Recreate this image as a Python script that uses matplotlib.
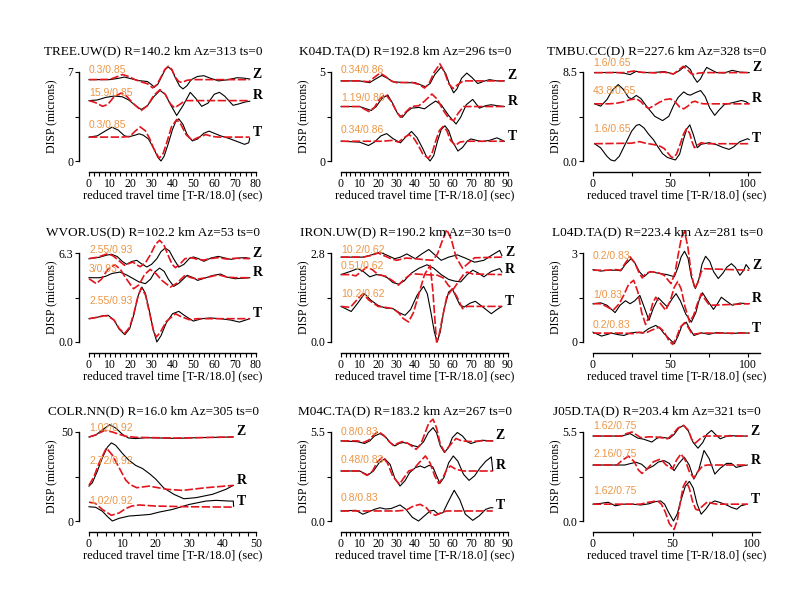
import numpy as np
import matplotlib
matplotlib.use("Agg")
import matplotlib.pyplot as plt
from matplotlib.ticker import MultipleLocator, FixedLocator

plt.rcParams["font.family"] = ["Liberation Serif", "DejaVu Serif"]

# === waveform data: (time [s], displacement relative to trace offset) ===
# obs = data (black), syn = synthetic (red)

# --- TREE.UW ---
tree_z_obs = [(0, 0), (10, 0), (14, 0.1), (17, 0.2), (20, 0.08), (24, -0.08), (28, -0.15), (30, -0.4), (31.3, -0.6),
              (33, -0.35), (34.7, 0.2), (36.5, 0.8), (38, 1.0), (39.7, 0.75), (41.5, 0.1), (43.4, -0.5), (45, -0.73),
              (46.8, -0.5), (49, 0), (52, 0.25), (55, 0.31), (58, 0.12), (62, -0.1), (66, -0.02), (71, 0.15),
              (74, 0.12), (77, 0.05)]
tree_z_syn = [(0, 0), (10, 0.02), (13, 0.2), (16, 0.4), (19, 0.25), (22, 0), (25, -0.18), (28, -0.32), (30.5, -0.65),
              (32.5, -0.4), (34.5, 0.2), (36.3, 0.8), (38, 1.05), (39.7, 0.8), (41.3, 0.2), (43, -0.15), (44.5, -0.22),
              (47, -0.05), (50, 0), (77, 0)]
tree_r_obs = [(0, 0), (4, 0.05), (8, 0.25), (12, 0.36), (16, 0.3), (19, 0.05), (22, -0.35), (25, -0.7), (28, -0.4),
              (31, 0.3), (34, 0.8), (36.5, 0.5), (39, -0.3), (42, -1.17), (45, -0.4), (48.5, 0.65), (51, 0.2),
              (54, -0.45), (57, -0.2), (60, 0.5), (62.5, 0.65), (65, 0.35), (69, -0.37), (72, -0.25), (75, -0.1),
              (77, -0.05)]
tree_r_syn = [(0, 0), (3, -0.15), (6.5, -0.45), (9, -0.3), (12, 0.3), (15.5, 0.6), (18, 0.35), (21, -0.2),
              (25, -0.78), (28, -0.4), (31, 0.4), (34, 0.86), (36.5, 0.5), (39, -0.25), (41, -0.57), (43.5, -0.3),
              (46, 0), (77, 0)]
tree_t_obs = [(0, 0), (4, 0.1), (8, 0.5), (11, 0.78), (14, 0.55), (17, 0.1), (19, 0.02), (22, 0.15), (24, 0.26),
              (26, 0.15), (28.5, -0.15), (31, -0.9), (33, -1.6), (34.5, -1.88), (36, -1.5), (38, -0.5), (40, 0.6),
              (41.5, 1.2), (43, 1.44), (45, 1.0), (47, 0.2), (49.5, -0.3), (52, -0.15), (55, 0.3), (57.5, 0.47),
              (60, 0.3), (63, 0.1), (67, -0.1), (71, -0.35), (74.5, -0.57), (76.5, -0.45), (77, -0.1)]
tree_t_syn = [(0, 0), (16, 0), (19.6, 0.05), (22, 0.45), (24.5, 0.8), (27, 0.5), (29, -0.1), (31, -0.9),
              (33.6, -1.67), (35.5, -1.3), (37.5, -0.3), (39.5, 0.8), (42, 1.38), (44, 1.0), (46.5, 0.2),
              (49.4, -0.26), (52, -0.05), (56, 0.2), (59, 0.05), (62, 0), (77, 0)]

# --- K04D.TA ---
k04d_z_obs = [(0, 0), (10, 0), (15.4, -0.1), (18.5, 0.1), (22, 0.31), (25, 0.15), (28, -0.05), (35, -0.1), (40, -0.1),
              (45.5, -0.33), (48, -0.15), (50.5, 0.35), (54, 0.78), (56.5, 0.4), (58.5, -0.2), (60.7, -0.67),
              (62.5, -0.45), (65, 0.15), (67.8, 0.44), (70.5, 0.2), (73.7, -0.15), (77, -0.02), (80, 0.07),
              (84, 0), (88, 0)]
k04d_z_syn = [(0, 0), (10, 0), (15, -0.05), (18, 0.2), (21, 0.44), (24, 0.25), (27, 0), (30, -0.1), (38, -0.08),
              (42, -0.2), (45, -0.4), (47.5, -0.15), (50, 0.45), (53.3, 0.96), (55.8, 0.5), (58, -0.15),
              (60.4, -0.43), (63, -0.2), (66, 0), (88, 0)]
k04d_r_obs = [(0, 0), (10, 0), (16.3, -0.22), (19, 0.0), (22, 0.45), (25.2, 0.65), (28, 0.15), (30.5, -0.4),
              (33, -0.61), (35.5, -0.3), (38, -0.09), (42, -0.05), (45, -0.13), (48, 0.1), (51, 0.31), (54, 0.1),
              (58, -0.5), (62, -0.98), (64.5, -0.6), (67.5, 0.1), (71, 0.4), (74.6, -0.09), (78, 0.05), (81, 0.1),
              (84, 0.05), (88, 0)]
k04d_r_syn = [(0, 0), (10, 0), (15, -0.28), (18, -0.05), (21, 0.45), (24, 0.68), (27, 0.3), (29.5, -0.2), (32, -0.6),
              (34.5, -0.35), (38, 0), (42, 0.05), (45, 0.3), (49, 0.7), (52, 0.4), (55, -0.2), (58, -0.65),
              (60.7, -0.8), (63, -0.4), (66, 0), (88, 0)]
k04d_t_obs = [(0, 0), (10, -0.05), (14.8, -0.24), (18, -0.05), (21.5, 0.3), (24.6, 0.43), (28, 0.15), (32, -0.09),
              (35, 0.25), (38, 0.55), (41, 0.2), (44, -0.4), (46, -0.85), (48, -1.11), (50, -0.8), (52, 0.0),
              (54, 0.65), (56, 0.87), (58, 0.6), (60, 0), (63, -0.55), (65.5, -0.35), (68, 0.0), (70, 0.13),
              (73, 0.05), (76, -0.02), (80, 0.05), (84, 0.19), (86, 0.1), (88, 0)]
k04d_t_syn = [(0, 0), (22, 0), (28, 0.05), (31, -0.05), (34, 0.2), (36.7, 0.37), (39, 0.2), (41.5, -0.2), (44, -0.7),
              (47, -0.96), (49, -0.7), (51, 0.0), (53, 0.6), (55, 0.83), (57, 0.6), (59, 0.05), (61.7, -0.24),
              (64, -0.05), (67, 0), (88, 0)]

# --- TMBU.CC ---
tmbu_z_obs = [(1, 0), (15, 0.02), (20, -0.05), (24, -0.19), (28, 0.13), (32, 0), (40, 0.02), (46, 0.1), (52, -0.13),
              (56, 0.2), (60, 0.67), (63, 0.3), (65, -0.4), (67.4, -0.92), (69.5, -0.6), (71.5, 0.0), (73.5, 0.5),
              (76, 0.3), (80, 0), (85, -0.03), (90, 0.22), (95, 0.05), (101, 0)]
tmbu_z_syn = [(1, 0), (20, 0), (24, 0.1), (27, 0.16), (30, 0.05), (40, -0.03), (46, 0.05), (52, -0.13), (55, 0.2),
              (58.3, 0.6), (61, 0.3), (63.5, -0.1), (65.6, -0.2), (68, -0.05), (72, 0), (101, 0)]
tmbu_r_obs = [(1, 0), (5, -0.22), (9, 0.4), (12.5, 1.3), (16.3, 1.84), (19.5, 1.4), (23, 0.6), (25, 0.48), (28, 0.8),
              (31, 0.5), (35, -0.3), (40, -1.2), (45, -1.6), (49, -1.2), (52, -0.2), (55, 0.6), (58.7, 1.14),
              (61, 0.9), (63, 0.83), (66, 1.05), (69.6, 1.27), (72.5, 0.7), (75.5, -0.4), (78.7, -1.1),
              (81.5, -0.6), (85, -0.06), (90, 0.1), (96, 0.32), (99, 0.2), (101, 0)]
tmbu_r_syn = [(1, 0), (10, 0), (15, 0.05), (20, 0.2), (24, 0.4), (28, 0.48), (31, 0.2), (33.5, -0.2), (36, -0.44),
              (39, -0.2), (43, 0.15), (46.5, 0.4), (50, 0.48), (53, 0.2), (56, -0.3), (58.7, -0.48), (61.5, -0.2),
              (64, 0.15), (66, 0.25), (69, 0.05), (72, 0), (101, 0)]
tmbu_t_obs = [(1, 0), (5, -0.4), (9, -1.2), (11.5, -1.55), (14, -1.65), (17, -1.2), (21, 0.0), (25, 1.2),
              (28, 1.75), (30, 1.84), (33, 1.5), (36, 0.9), (39, 0.4), (42, -0.3), (45, -0.95), (48, -1.3),
              (51, -1.45), (53.3, -1.55), (56, -1.0), (58.5, 0.4), (60.6, 1.4), (62.6, 1.8), (64.8, 0.9),
              (67.4, -0.38), (70, -0.05), (75, 0.1), (80, -0.1), (84, -0.35), (88, -0.54), (91, -0.3), (95, 0.2),
              (100, 0.48), (101, 0.4)]
tmbu_t_syn = [(1, 0), (25, 0.05), (30, 0.2), (34, 0.05), (40, -0.1), (43.5, -0.25), (46, -0.45), (48.5, -0.9),
              (50.5, -1.25), (52, -1.33), (54, -1.0), (56.5, 0.0), (58.5, 0.9), (60.4, 1.43), (62.5, 1.0), (64, 0.2),
              (65.6, -0.38), (68, -0.1), (70, 0.1), (73, 0), (101, 0)]

# --- WVOR.US ---
wvor_z_obs = [(0, 0), (5, 0.1), (8.5, 0.25), (10.8, 0.31), (13.5, 0.15), (16, -0.2), (18, -0.4), (20.5, -0.2),
              (22.9, -0.12), (25, -0.35), (27.7, -0.59), (30, -0.4), (32.5, 0.0), (34.5, 0.5), (36.5, 0.75),
              (38.5, 0.55), (40.5, 0.0), (43, -0.6), (45.5, -0.4), (48, 0.0), (50, 0.12), (52.5, 0.0), (55, -0.19),
              (58.5, 0.05), (62, 0.16), (65, 0.05), (68, -0.05), (72, 0.05), (75, 0.07), (77, 0.02)]
wvor_z_syn = [(0, 0), (4, 0.1), (7, 0.25), (9, 0.35), (11.5, 0.2), (14, -0.1), (17, -0.47), (19, -0.35), (21, -0.24),
              (23, -0.45), (24.5, -0.57), (27, -0.3), (29.5, 0.3), (31.8, 1.0), (33.8, 1.3), (35.8, 1.0), (38, 0.2),
              (39.8, -0.4), (41.4, -0.64), (43.5, -0.4), (46, 0.0), (49, 0.07), (52, -0.05), (55, -0.1), (58, 0.0),
              (62, 0.07), (66, -0.03), (70, 0.03), (77, 0)]
wvor_r_obs = [(0, 0), (5, 0), (8, 0.1), (11, 0.3), (14.8, 0.4), (18, 0.2), (21, -0.05), (24, -0.3), (27, -0.42),
              (29.5, -0.1), (31.5, 0.4), (33.8, 0.68), (36, 0.45), (38, -0.1), (40.6, -0.61), (43, -0.4), (47, 0.17),
              (50, 0.0), (52, -0.19), (55, -0.05), (59, 0.15), (63, 0.26), (66, 0.05), (70, -0.07), (74, -0.03),
              (77, 0)]
wvor_r_syn = [(0, -0.07), (3.5, -0.42), (6, -0.1), (9, 0.6), (12.4, 0.92), (15, 0.6), (17.5, 0.0), (21.3, -0.78),
              (24, -0.5), (26.5, 0.2), (29.3, 0.59), (32, 0.3), (35, -0.2), (39, -0.66), (42, -0.4), (46, 0.17),
              (49, 0.0), (52, -0.1), (56, 0.0), (62, 0.21), (66, 0.05), (70, 0.0), (77, 0)]
wvor_t_obs = [(0, 0), (4, 0.1), (7, 0.22), (9.2, 0.24), (12, -0.1), (14.5, -0.75), (17.2, -1.13), (19.5, -0.7),
              (21.5, 0.3), (23.5, 1.6), (25.3, 2.24), (27, 1.8), (29, 0.5), (30.8, -0.8), (32.5, -1.65),
              (34.5, -1.2), (37, -0.3), (40, 0.35), (43, 0.52), (46, 0.2), (50, -0.17), (54, 0.0), (58, 0.05),
              (63, 0.0), (68, -0.1), (72, -0.24), (75, -0.1), (77, 0)]
wvor_t_syn = [(0, 0), (4, 0.1), (7, 0.2), (9, 0.19), (12, -0.1), (14.5, -0.7), (17, -1.06), (19.5, -0.6),
              (21.5, 0.4), (23.5, 1.6), (25, 2.17), (27, 1.7), (29, 0.4), (30.8, -0.8), (32.2, -1.3), (34, -1.0),
              (37, -0.2), (41.4, 0.35), (44, 0.15), (48, -0.07), (52, 0.0), (77, 0)]

# --- IRON.UW ---
iron_z_obs = [(0, 0), (12, 0), (17, 0.08), (21, 0.16), (24, 0.08), (29, -0.05), (32, 0.0), (35.5, 0.1), (40, -0.05),
              (43.5, 0.1), (47.3, 0.24), (50, 0.1), (54, -0.1), (58, 0.0), (62.7, 0.07), (67, -0.03), (72, -0.16),
              (77, -0.1), (81, 0.05), (85.5, 0.21), (86.7, 0.05)]
iron_z_syn = [(0, 0), (12, 0), (16, 0.05), (20, 0.13), (23, 0.05), (27, -0.05), (30, -0.1), (35, -0.03), (40, -0.05),
              (45, -0.08), (49.5, -0.1), (52, 0.1), (54.5, 0.5), (57, 0.87), (59.5, 0.55), (62, 0.0), (65.5, -0.35),
              (68.5, -0.2), (72, -0.02), (86.7, 0)]
iron_r_obs = [(0, 0), (5, 0.1), (9, 0.19), (12, 0.1), (15.5, -0.07), (19, 0.0), (22, -0.02), (25, -0.1),
              (28, -0.25), (31, -0.3), (34, -0.2), (38, 0.05), (42, 0.2), (46.4, 0.31), (50, 0.2), (54, 0.0),
              (58, -0.15), (61, -0.2), (64.5, -0.23), (68, 0.0), (71, 0.14), (74, 0.05), (77, -0.07), (81, 0.1),
              (85.5, 0.19), (86.7, 0.08)]
iron_r_syn = [(0, 0), (5, 0.0), (8, -0.04), (11, 0.1), (14, 0.24), (17, 0.15), (20, 0.0), (24, -0.05), (28, -0.2),
              (31, -0.33), (34, -0.15), (38, 0.03), (45, 0.0), (52, -0.02), (55, -0.1), (58, -0.35), (60.5, -0.46),
              (63, -0.25), (66, 0.0), (68, 0.08), (71, 0.02), (86.7, 0)]
iron_t_obs = [(0, 0), (5.5, -0.16), (9, 0.1), (12.7, 0.4), (16, 0.2), (20, 0.03), (24, -0.05), (28, -0.07),
              (31.5, -0.2), (34.5, -0.28), (37.5, -0.1), (41, 0.35), (44.5, 0.63), (46.5, 0.4), (48.5, -0.2),
              (50.3, -0.8), (51.8, -1.12), (53.5, -0.8), (55.5, -0.1), (58, 0.45), (60, 0.55), (62, 0.3),
              (64, 0.05), (66.4, -0.02), (69.5, 0.1), (72.4, 0.16), (76, 0.0), (81, -0.23), (84, -0.1), (86.7, 0.0)]
iron_t_syn = [(0, 0), (5, -0.03), (8.5, 0.2), (11.8, 0.4), (15, 0.2), (20, 0.0), (24, -0.03), (28, -0.07),
              (31, -0.2), (33.5, -0.38), (36.4, -0.49), (39, -0.2), (42, 0.4), (45, 1.0), (48, 1.29), (49.5, 0.5),
              (50.7, -0.5), (51.5, -1.12), (52.5, -1.0), (54.5, -0.4), (57, 0.3), (60, 0.55), (62.5, 0.3),
              (65.5, -0.07), (68, 0.0), (86.7, 0)]

# --- L04D.TA ---
l04d_z_obs = [(0, 0.02), (5, -0.03), (10, 0.0), (15, 0.0), (18, -0.02), (21, 0.2), (24.6, 0.39), (27, 0.25),
              (30, -0.05), (33, -0.22), (36, -0.08), (38, -0.05), (42, -0.1), (48, -0.15), (52.6, -0.22), (55, 0.1),
              (57, 0.45), (59.2, 0.64), (61.5, 0.4), (63.5, -0.2), (66.2, -0.62), (68.5, -0.3), (70.5, 0.2),
              (72.8, 0.47), (75.5, 0.3), (78, -0.05), (81, -0.28), (84, -0.1), (86.5, 0.1), (89.5, 0.22),
              (92, 0.1), (95, -0.17), (97.5, 0.0), (99, 0.19), (101, 0.05)]
l04d_z_syn = [(0, 0), (10, 0.0), (15, 0.02), (18, 0.0), (21, 0.25), (24, 0.45), (27, 0.25), (29.5, -0.05),
              (31.8, -0.26), (34, -0.12), (37, -0.05), (42, -0.08), (46, -0.17), (48, -0.3), (50.4, -0.45),
              (53, -0.1), (55, 0.5), (57.2, 1.1), (59.2, 1.3), (61.3, 0.8), (63.5, -0.1), (65.8, -0.62), (68, -0.4),
              (70, -0.05), (72, 0.05), (101, 0)]
l04d_r_obs = [(0, 0), (5, 0.03), (9, -0.05), (14.3, -0.3), (17.5, -0.05), (21, 0.1), (24, 0.0), (27, 0.1),
              (30.3, 0.28), (33, -0.1), (36.2, -0.56), (39, -0.15), (42.3, 0.2), (45, 0.05), (48, -0.1), (51, 0.15),
              (53.7, 0.34), (56.5, 0.1), (60, -0.35), (63.6, -0.62), (66.5, -0.3), (68.5, 0.1), (70.8, 0.37),
              (73.5, 0.15), (77.9, -0.19), (80.5, 0.0), (83, 0.22), (86, 0.1), (90, -0.05), (95, 0.02), (101, 0)]
l04d_r_syn = [(0, 0), (5, 0.0), (9, -0.1), (13, -0.22), (17, 0.0), (20, 0.3), (23, 0.65), (26.3, 0.79), (29, 0.4),
              (31.5, -0.3), (34, -0.7), (36.5, -0.4), (38.5, 0.0), (40.6, 0.22), (43, 0.05), (47, -0.22), (50, 0.1),
              (52.5, 0.55), (54.8, 0.75), (57, 0.5), (59.5, -0.1), (62.5, -0.62), (65, -0.4), (67.5, 0.0),
              (70, 0.34), (72.5, 0.15), (75, -0.03), (77, -0.05), (101, 0)]
l04d_t_obs = [(0, 0.03), (5.5, -0.1), (9, -0.05), (12, 0.0), (16, -0.05), (20, -0.08), (24, 0.0), (28, 0.03),
              (32, 0.0), (36, 0.15), (40.6, 0.26), (43.5, 0.15), (46, -0.02), (49.5, -0.2), (52.6, -0.36), (55, -0.1),
              (57.5, 0.25), (60.3, 0.37), (62.5, 0.15), (65.3, -0.08), (70, 0.01), (75, -0.04), (80, 0.02),
              (85, 0.0), (90, -0.02), (95, 0.01), (101, 0)]
l04d_t_syn = [(0, 0), (20, 0.0), (26, -0.02), (30, 0.03), (34, 0.0), (38, 0.1), (42.8, 0.2), (46, 0.05),
              (49, -0.25), (51.5, -0.38), (54, -0.15), (56.5, 0.2), (59.2, 0.35), (61.5, 0.2), (64, -0.02),
              (66, -0.03), (70, 0), (101, 0)]

# --- COLR.NN ---
colr_z_obs = [(0, 0), (2, 1.0), (4, 4.0), (6.2, 6.9), (8, 5.0), (10, 1.5), (11.8, -0.55), (14, -0.9), (17, -0.4),
              (22, -0.6), (26, -0.8), (32, -0.4), (38, -0.2), (43.2, 0.0)]
colr_z_syn = [(0, 0), (2, 1.2), (4.7, 3.7), (7, 2.8), (9, 1.5), (11, 0.4), (14, -0.2), (20, -0.4), (26, -0.6),
              (32, -0.4), (38, -0.2), (43.2, 0.0)]
colr_r_obs = [(0, -0.4), (1, 1.5), (2.5, 8), (4, 15.5), (5.5, 21.5), (6.7, 23.9), (8, 22.5), (10, 18), (11.8, 14.4),
              (14, 11.2), (16, 9.5), (18.3, 6.3), (20, 3.5), (22.3, -1.3), (25.4, -5.0), (28.4, -7.5), (32, -6.9),
              (37, -5.0), (41, -2.2), (43.2, 0.0)]
colr_r_syn = [(0, 0), (1.5, 5), (3, 12.5), (5.2, 21.0), (7, 17), (9, 10), (11, 3), (12.3, 0.5), (14.3, -1.3),
              (16, -0.9), (18, -0.4), (23.3, -2.2), (28, -2.8), (35, -1.3), (43.2, 0.0)]
colr_t_obs = [(0, 0), (2, -0.3), (4, -2.5), (5.5, -5.5), (7, -8.0), (9, -6.5), (12, -5.2), (15, -4.8),
              (18.3, -4.3), (21, -3.0), (25, -1.5), (30, 1.3), (35, 3.2), (38, 3.6), (42, 3.2), (43.2, 3.2),
              (43.3, 0.3)]
colr_t_syn = [(0, 2.6), (2, 1.8), (4, -1.5), (6.7, -4.8), (9, -3.5), (11, -1.0), (12.8, 0.4), (15, 1.0), (20, 0.4),
              (30, 0.0), (43.2, -0.2)]

# --- M04C.TA ---
m04c_z_obs = [(0, 0), (9, -0.05), (12.7, -0.16), (15.5, 0.0), (18, 0.3), (21, 0.45), (24, 0.25), (26.5, -0.1),
              (29, -0.31), (31.5, -0.15), (33.5, -0.1), (36, -0.15), (39, -0.3), (41.8, -0.37), (44.5, -0.05),
              (47, 0.5), (49.6, 0.82), (51.5, 0.5), (53.5, -0.3), (55.8, -0.72), (58, -0.4), (60, 0.2), (62.7, 0.52),
              (65.5, 0.3), (68, -0.05), (70, -0.16), (73, -0.05), (76, 0.04), (79, 0.02), (81.8, 0)]
m04c_z_syn = [(0, 0), (9, 0.0), (12, -0.1), (15, 0.05), (17.5, 0.35), (20, 0.58), (23, 0.35), (26, -0.05),
              (28.5, -0.31), (30.5, -0.15), (33, -0.04), (36, -0.15), (38.5, -0.35), (40.5, -0.52), (43, -0.2),
              (45, 0.4), (47.3, 1.1), (49.6, 1.34), (51.5, 0.8), (53.5, -0.2), (55.8, -0.68), (58.5, -0.3),
              (62, 0.15), (65, 0.0), (70, -0.04), (75, 0.0), (81.8, 0)]
m04c_r_obs = [(0, 0), (10, 0.0), (14.5, -0.25), (17.5, 0.0), (20.5, 0.5), (23.6, 0.76), (26.5, 0.4), (29, -0.45),
              (31.8, -0.93), (34.5, -0.6), (37, -0.1), (40, 0.2), (42.7, 0.31), (45, 0.2), (47.5, 0.35),
              (49.5, 0.25), (51.5, -0.3), (53.3, -0.76), (55.5, -0.4), (58, 0.5), (60.5, 0.93), (63, 0.6),
              (66, -0.2), (69, -0.58), (72, -0.3), (75, 0.2), (78, 0.6), (81, 0.87), (81.8, 0.02)]
m04c_r_syn = [(0, 0), (10, 0.0), (14, -0.27), (17, 0.0), (19.5, 0.55), (22.4, 0.87), (25, 0.5), (28, -0.35),
              (31.5, -0.82), (34, -0.4), (36.5, 0.0), (39, 0.1), (42, 0.5), (45.5, 0.93), (48, 0.5), (50.5, -0.3),
              (52.7, -0.78), (55, -0.4), (57, 0.1), (59, 0.31), (62, 0.1), (66, 0.0), (81.8, 0)]
m04c_t_obs = [(0, 0), (8, 0.04), (11.8, -0.2), (15, -0.05), (18, 0.1), (21, 0.2), (24, 0.12), (27, 0.15),
              (31.8, 0.37), (35, 0.1), (38.5, -0.4), (41.8, -0.62), (45, -0.3), (48, 0.0), (50, 0.04), (52.5, -0.2),
              (55, -0.1), (57.5, 0.5), (61, 1.28), (64, 0.7), (67, -0.2), (71, -0.58), (74.5, -0.3), (78, 0.1),
              (80.5, 0.2), (81.8, 0.2)]
m04c_t_syn = [(0, 0), (30, 0.0), (35, 0.05), (39, 0.3), (42.7, 0.41), (46, 0.2), (48.5, -0.15), (51, -0.27),
              (54, -0.1), (57, 0.0), (81.8, 0)]

# --- J05D.TA ---
j05d_z_obs = [(0, 0), (18, 0.0), (23.4, 0.15), (28, -0.12), (32, -0.2), (37, -0.37), (40, -0.15), (42, -0.06),
              (45, -0.1), (48, -0.15), (51, 0.1), (54, 0.5), (57, 0.66), (60, 0.3), (63, -0.4), (66, -0.75),
              (69, -0.4), (71.5, 0.1), (74.5, 0.35), (77.5, 0.05), (80, -0.17), (83, -0.05), (86, 0.04), (90, 0.0),
              (97, 0)]
j05d_z_syn = [(0, 0), (18, 0.0), (21, 0.15), (24.5, 0.25), (27, 0.1), (30, -0.1), (35, -0.05), (40, -0.06),
              (44, -0.12), (47, -0.17), (50, 0.1), (53.5, 0.5), (57, 0.66), (60, 0.35), (62, -0.2), (64.3, -0.44),
              (67, -0.2), (70, 0.0), (97, 0)]
j05d_r_obs = [(0, 0), (20, 0.0), (24, 0.1), (27, 0.17), (30.5, 0.05), (34, -0.25), (38, -0.05), (41, 0.18),
              (44.7, 0.27), (48, 0.1), (51, -0.35), (54, 0.1), (57.4, 0.48), (60.5, 0.0), (63.4, -0.87),
              (66.5, -0.3), (69.8, 0.9), (73, 0.4), (76.6, -0.56), (80, -0.2), (84, 0.1), (87, 0.1), (90, -0.15),
              (94, -0.05), (97, 0)]
j05d_r_syn = [(0, 0), (15, 0.0), (18.5, 0.3), (22.3, 0.55), (26, 0.2), (28.5, -0.3), (30.8, -0.52), (34, -0.25),
              (38, 0.2), (42.5, 0.37), (46, 0.0), (50, -0.25), (52.5, 0.3), (55.3, 0.69), (58, 0.3), (60.5, -0.4),
              (63.4, -0.81), (66, -0.4), (69, -0.05), (72, 0.0), (97, 0)]
j05d_t_obs = [(0, 0), (5, 0.05), (9.6, 0.12), (14, -0.1), (19, 0.0), (25, 0.0), (30, -0.05), (35, 0.02), (39, 0.15),
              (42.5, 0.2), (45, 0.0), (47.5, -0.5), (50.6, -1.04), (53, -0.6), (55.5, 0.3), (58, 1.1), (60.6, 1.41),
              (63, 1.0), (65.5, 0.0), (68, -0.62), (71, -0.3), (73.5, 0.05), (76.6, 0.2), (80, 0.1), (84, -0.05),
              (87, -0.2), (90.4, -0.31), (93, -0.1), (97, 0)]
j05d_t_syn = [(0, 0), (30, 0.0), (34, 0.1), (37, 0.15), (40.4, 0.21), (43, 0.0), (45.5, -0.5), (48, -1.2),
              (51, -1.56), (53, -1.0), (55, 0.2), (56.8, 1.1), (58.5, 1.41), (60.5, 1.0), (62.5, 0.2), (64.5, -0.3),
              (66, -0.37), (68.5, -0.15), (72, 0.15), (75, 0.05), (78, 0.0), (97, 0)]

# === panel info ===
titles = [
    "TREE.UW(D) R=140.2 km Az=313 ts=0",
    "K04D.TA(D) R=192.8 km Az=296 ts=0",
    "TMBU.CC(D) R=227.6 km Az=328 ts=0",
    "WVOR.US(D) R=102.2 km Az=53 ts=0",
    "IRON.UW(D) R=190.2 km Az=30 ts=0",
    "L04D.TA(D) R=223.4 km Az=281 ts=0",
    "COLR.NN(D) R=16.0 km Az=305 ts=0",
    "M04C.TA(D) R=183.2 km Az=267 ts=0",
    "J05D.TA(D) R=203.4 km Az=321 ts=0",
]
y_max = [7, 5, 8.5, 6.3, 2.8, 3, 50, 5.5, 5.5]
y_labels = [("0", "7"), ("0", "5"), ("0.0", "8.5"), ("0.0", "6.3"), ("0.0", "2.8"),
            ("0", "3"), ("0", "50"), ("0.0", "5.5"), ("0.0", "5.5")]
x_max = [80, 90, 108, 80, 90, 108, 50, 90, 105]
x_major = [10, 10, 50, 10, 10, 50, 10, 10, 50]
x_minor = [2.5, 2.5, 25, 2.5, 2.5, 25, 2.5, 2.5, 25]

# trace offsets (Z, R, T)
offsets = [
    [6.40, 4.75, 1.88],
    [4.50, 3.06, 1.11],
    [8.44, 5.46, 1.65],
    [5.90, 4.55, 1.65],
    [2.67, 2.12, 1.12],
    [2.42, 1.29, 0.30],
    [47.2, 20.0, 8.0],
    [4.95, 3.09, 0.62],
    [5.25, 3.46, 1.04],
]
# amplitude-ratio / cc labels (Z, R, T)
fit_labels = [
    ["0.3/0.85", "15.9/0.85", "0.3/0.85"],
    ["0.34/0.86", "1.19/0.86", "0.34/0.86"],
    ["1.6/0.65", "43.8/0.65", "1.6/0.65"],
    ["2.55/0.93", "3/0.93", "2.55/0.93"],
    ["10.2/0.62", "0.51/0.62", "10.2/0.62"],
    ["0.2/0.83", "1/0.83", "0.2/0.83"],
    ["1.02/0.92", "2.72/0.92", "1.02/0.92"],
    ["0.8/0.83", "0.48/0.83", "0.8/0.83"],
    ["1.62/0.75", "2.16/0.75", "1.62/0.75"],
]
fit_label_y = [
    [7.13, 5.35, 2.87],
    [5.09, 3.52, 1.72],
    [9.37, 6.67, 3.08],
    [6.49, 5.19, 2.88],
    [2.91, 2.39, 1.52],
    [2.89, 1.60, 0.56],
    [52.2, 33.6, 11.2],
    [5.50, 3.75, 1.44],
    [5.85, 4.15, 1.83],
]
components = ["Z", "R", "T"]

traces = [
    [(tree_z_obs, tree_z_syn), (tree_r_obs, tree_r_syn), (tree_t_obs, tree_t_syn)],
    [(k04d_z_obs, k04d_z_syn), (k04d_r_obs, k04d_r_syn), (k04d_t_obs, k04d_t_syn)],
    [(tmbu_z_obs, tmbu_z_syn), (tmbu_r_obs, tmbu_r_syn), (tmbu_t_obs, tmbu_t_syn)],
    [(wvor_z_obs, wvor_z_syn), (wvor_r_obs, wvor_r_syn), (wvor_t_obs, wvor_t_syn)],
    [(iron_z_obs, iron_z_syn), (iron_r_obs, iron_r_syn), (iron_t_obs, iron_t_syn)],
    [(l04d_z_obs, l04d_z_syn), (l04d_r_obs, l04d_r_syn), (l04d_t_obs, l04d_t_syn)],
    [(colr_z_obs, colr_z_syn), (colr_r_obs, colr_r_syn), (colr_t_obs, colr_t_syn)],
    [(m04c_z_obs, m04c_z_syn), (m04c_r_obs, m04c_r_syn), (m04c_t_obs, m04c_t_syn)],
    [(j05d_z_obs, j05d_z_syn), (j05d_r_obs, j05d_r_syn), (j05d_t_obs, j05d_t_syn)],
]

# === layout (pixels on a 792x612 canvas) ===
W, H = 792, 612
col_x0 = [89, 341, 593]
row_top = [72, 253, 432]
ax_w, ax_h = 167, 89

RED = "#e3141c"
ORANGE = "#ec9646"

fig = plt.figure(figsize=(W / 100, H / 100), dpi=100)

for i in range(9):
    row, col = divmod(i, 3)
    x0, top = col_x0[col], row_top[row]
    ax = fig.add_axes([x0 / W, 1 - (top + ax_h) / H, ax_w / W, ax_h / H])
    ax.patch.set_visible(False)

    for k, (obs, syn) in enumerate(traces[i]):
        obs = np.array(obs, dtype=float)
        syn = np.array(syn, dtype=float)
        base = offsets[i][k]
        ax.plot(obs[:, 0], obs[:, 1] + base, color="black", lw=0.8, clip_on=False, zorder=2)
        ax.plot(syn[:, 0], syn[:, 1] + base, color=RED, lw=1.2, ls=(0, (5, 1.5)), clip_on=False, zorder=3)
        ax.text(0, fit_label_y[i][k], fit_labels[i][k], color=ORANGE, fontsize=7.5,
                family=["Liberation Sans", "DejaVu Sans"], ha="left", va="center", zorder=4)
        ax.annotate(components[k], xy=(obs[-1, 0], base), xytext=(2.2, 3.6), textcoords="offset points",
                    ha="left", va="center", fontsize=10, fontweight="bold", annotation_clip=False)

    ax.set_xlim(0, x_max[i])
    ax.set_ylim(0, y_max[i])
    for s in ("top", "right"):
        ax.spines[s].set_visible(False)
    ax.spines["left"].set_position(("outward", 7.2))
    ax.spines["bottom"].set_position(("outward", 7.9))
    ax.spines["left"].set_linewidth(1.0)
    ax.spines["bottom"].set_linewidth(1.0)

    ax.yaxis.set_major_locator(FixedLocator([0, y_max[i] / 2, y_max[i]]))
    ax.set_yticklabels([y_labels[i][0], "", y_labels[i][1]])
    ax.xaxis.set_major_locator(MultipleLocator(x_major[i]))
    ax.xaxis.set_minor_locator(MultipleLocator(x_minor[i]))
    ax.xaxis.set_major_formatter(plt.FuncFormatter(lambda v, p: f"{v:.0f}"))
    ax.tick_params(axis="both", which="both", direction="out", length=3, width=0.8, labelsize=8.5, pad=1.2)

    ax.text(0.5, -0.385, "reduced travel time [T-R/18.0] (sec)", transform=ax.transAxes,
            ha="center", va="center", fontsize=9)
    ax.text(-0.22, 0.5, "DISP (microns)", transform=ax.transAxes, rotation=90,
            ha="center", va="center", fontsize=8.5)
    fig.text((x0 + 64) / W, 1 - (top - 21) / H, titles[i], ha="center", va="center", fontsize=9.5)

fig.savefig("out.png", dpi=100)
